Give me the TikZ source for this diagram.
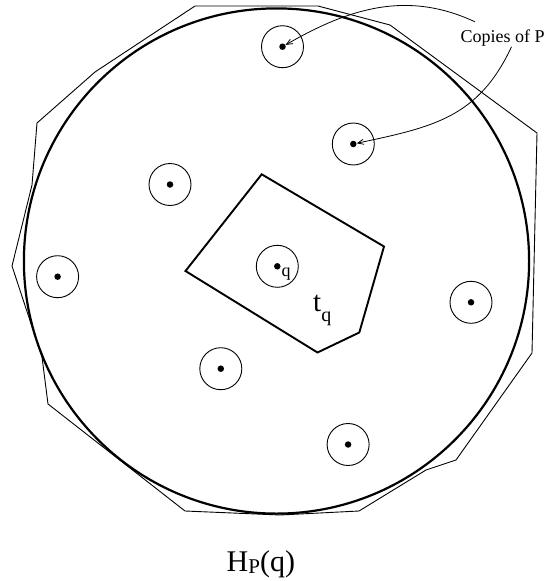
\documentclass[tikz,border=0pt]{standalone}
\usepackage{fontspec}
\setmainfont{Liberation Serif}
\usetikzlibrary{arrows.meta, positioning, calc}

\begin{document}
\begin{tikzpicture}[
    x=1pt, y=-1pt,
    hullC/.style={line width=2.2pt},
    hullP/.style={line width=0.9pt, line join=miter},
    cell/.style={line width=1.9pt, line join=miter},
    copyP/.style={circle, draw, line width=0.9pt, minimum size=42pt, inner sep=0pt},
    dotP/.style={circle, fill, minimum size=6.5pt, inner sep=0pt},
    arrow/.style={-{Straight Barb[length=6pt, width=5pt]}, line width=0.8pt},
    lbl/.style={anchor=base west, inner sep=0pt}
]

\useasboundingbox (0,0) rectangle (547,581);

% Hull of the copies
\draw[hullC] (276.5,261) circle (252.6);
\draw[hullP] (195,6) -- (318,6) -- (390,25) -- (537,133) -- (532,353) -- (456,460)
    -- (426,470) -- (359,511) -- (280,515) -- (185,511) -- (48,404) -- (42,357)
    -- (12,266) -- (32,185) -- (37,123) -- (95,72) -- cycle;

% Cell t_q
\draw[cell] (261.7,174.3) -- (384,246.5) -- (359.3,332.5) -- (317.5,352.5) -- (185.5,271) -- cycle;

% Copies of P
\foreach \x/\y [count=\i] in {282.5/46.7, 353.3/144, 170/184.5, 57.6/276.7,
    277.3/266.3, 471/302.3, 220.8/368.7, 348.1/444.5} {
  \node[copyP] (c\i) at (\x,\y) {};
  \node[dotP] (d\i) at (\x,\y) {};
}

% Labels
\node[lbl, font=\fontsize{18}{20}\selectfont] (qlbl) at (281.5,276.6) {q};
\node[lbl, font=\fontsize{29}{30}\selectfont] (tq) at (313,311.7)
    {t\raisebox{-10pt}{\fontsize{20}{20}\selectfont q}};
\node[lbl, font=\fontsize{18}{20}\selectfont] (copies) at (460.5,42.7) {Copies of P};
\node[lbl, font=\fontsize{30}{30}\selectfont] (title) at (226.5,571.7)
    {H\raisebox{-1.3pt}{\fontsize{21}{21}\selectfont P}(q)};

% Pointers
\draw[arrow] ([xshift=14.5pt, yshift=8pt]copies.north west) to[out=155, in=30] (d1);
\draw[arrow] ([xshift=51pt]copies.south west) to[out=-115, in=12, looseness=1.1] (d2);

\end{tikzpicture}
\end{document}
